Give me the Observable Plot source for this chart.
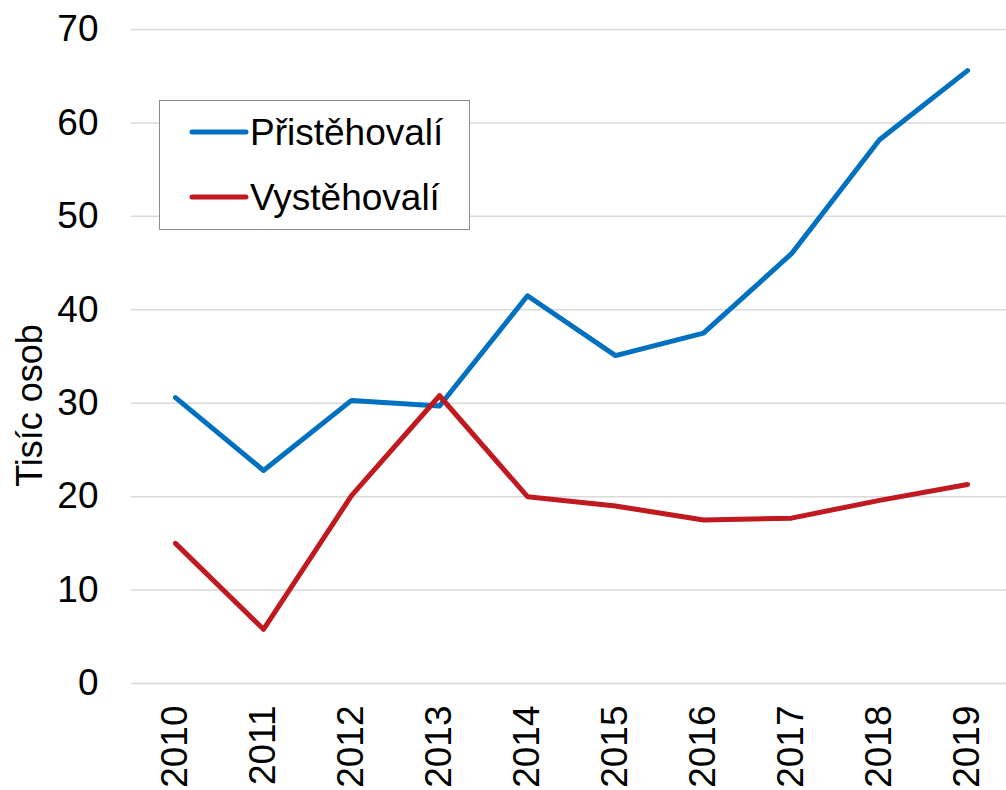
<!DOCTYPE html>
<html>
<head>
<meta charset="utf-8">
<script src="https://cdn.jsdelivr.net/npm/d3@7"></script>
<script src="https://cdn.jsdelivr.net/npm/@observablehq/plot@0.6"></script>
<style>
  html, body { margin: 0; padding: 0; background: #fff; overflow: hidden; }
  #wrap { position: relative; width: 1006px; height: 790px; font-family: "Liberation Sans", Arial, sans-serif; }
  #legend { position: absolute; left: 159px; top: 100px; width: 311px; height: 130px;
            border: 1.5px solid #8c8c8c; background: #fff; box-sizing: border-box; }
  #legend svg { display: block; }
</style>
</head>
<body>
<div id="wrap"><div id="chart"></div><div id="legend"></div></div>
<script>
// ---- data ----
const years = [2010, 2011, 2012, 2013, 2014, 2015, 2016, 2017, 2018, 2019];
const immigrants = [30.6, 22.8, 30.3, 29.7, 41.5, 35.1, 37.5, 46.0, 58.2, 65.6];
const emigrants = [15.0, 5.8, 20.1, 30.8, 20.0, 19.0, 17.5, 17.7, 19.6, 21.3];
const seriesNames = ["Přistěhovalí", "Vystěhovalí"];
const seriesColors = ["#0070c0", "#c0191f"];
const yTicks = [0, 10, 20, 30, 40, 50, 60, 70];
const yTitle = "Tisíc osob";

const rows = years.flatMap((yr, i) => [
  {year: yr, value: immigrants[i], series: seriesNames[0]},
  {year: yr, value: emigrants[i], series: seriesNames[1]}
]);

const font = '"Liberation Sans", Arial, sans-serif';

const chart = Plot.plot({
  width: 1006,
  height: 790,
  marginLeft: 131,
  marginRight: 0,
  marginTop: 29,
  marginBottom: 107,
  style: {fontFamily: font, fontSize: "37px", color: "#000", background: "#fff"},
  x: {type: "point", domain: years, padding: 0.5, range: [131, 1011]},
  y: {domain: [0, 70]},
  color: {domain: seriesNames, range: seriesColors},
  marks: [
    Plot.ruleY(yTicks, {stroke: "#d9d9d9", strokeWidth: 1.5}),
    Plot.axisY(yTicks, {tickSize: 0, tickPadding: 33, label: null, fill: "#000"}),
    Plot.axisX({tickSize: 0, tickRotate: -90, tickPadding: 22, label: null, tickFormat: d => String(d), fill: "#000"}),
    Plot.line(rows, {x: "year", y: "value", stroke: "series", strokeWidth: 5,
                     strokeLinejoin: "round", strokeLinecap: "round"}),
    Plot.text([yTitle], {frameAnchor: "left", textAnchor: "middle", lineAnchor: "bottom",
                         rotate: -90, dx: -90, dy: 49, fontSize: 36, fill: "#000"})
  ]
});
document.getElementById("chart").appendChild(chart);

// ---- legend (HTML overlay) ----
const lg = d3.select("#legend").append("svg").attr("width", 308).attr("height", 127);
seriesNames.forEach((name, i) => {
  const cy = 31 + i * 65;
  lg.append("line").attr("x1", 32).attr("x2", 86).attr("y1", cy).attr("y2", cy)
    .attr("stroke", seriesColors[i]).attr("stroke-width", 5).attr("stroke-linecap", "round");
  lg.append("text").attr("x", 90).attr("y", cy).attr("dy", "0.36em")
    .attr("font-family", font).attr("font-size", 37).attr("fill", "#000").text(name);
});
</script>
</body>
</html>
